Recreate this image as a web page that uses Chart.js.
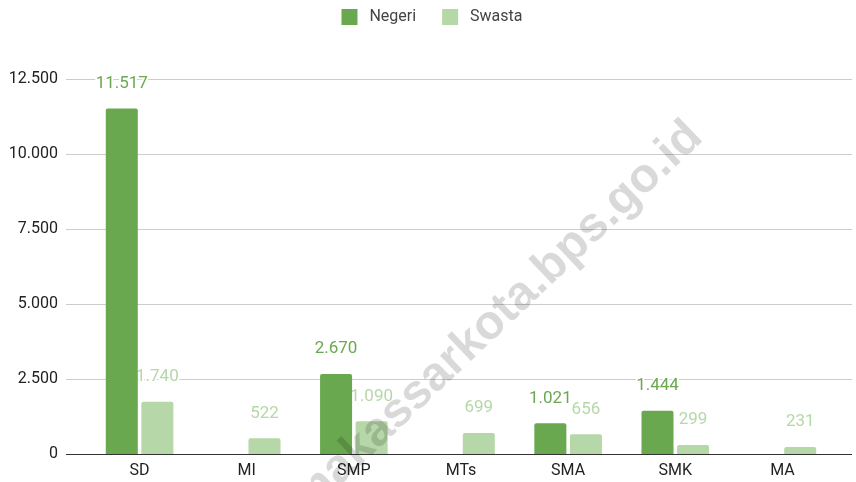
<!DOCTYPE html>
<html>
<head>
<meta charset="utf-8">
<script src="https://cdn.jsdelivr.net/npm/chart.js@4.4.1/dist/chart.umd.min.js"></script>
<style>
  html, body { margin: 0; padding: 0; background: #fff; }
  #wrap { width: 856px; height: 482px; }
</style>
</head>
<body>
<div id="wrap"><canvas id="chart"></canvas></div>
<script>
// data
const categories = ['SD', 'MI', 'SMP', 'MTs', 'SMA', 'SMK', 'MA'];
const negeri = [11517, 0, 2670, 0, 1021, 1444, 0];
const swasta = [1740, 522, 1090, 699, 656, 299, 231];
const yTicks = [0, 2500, 5000, 7500, 10000, 12500];
const watermark = 'makassarkota.bps.go.id';

const FONT = 'Roboto, Arial, sans-serif';
const negeriColor = '#6aa84f';
const swastaColor = '#b6d7a8';

// 11517 -> "11.517"
function fmt(v) {
    return String(v).replace(/\B(?=(\d{3})+(?!\d))/g, '.');
}

// grid lines reach a bit past the plot area, value labels sit behind the bars
const gridAndLabels = {
    id: 'gridAndLabels',
    afterLayout(chart) {
        // legend row sits a little right of centre in the original
        chart.legend.left += 14;
        chart.legend.right += 14;
    },
    beforeDatasetsDraw(chart) {
        const ctx = chart.ctx;
        const area = chart.chartArea;
        const y = chart.scales.y;
        ctx.save();
        y.ticks.forEach(t => {
            const py = Math.round(y.getPixelForValue(t.value)) + 0.5;
            ctx.strokeStyle = t.value === 0 ? '#333' : '#cccccc';
            ctx.lineWidth = 1;
            ctx.beginPath();
            ctx.moveTo(area.left - 20, py);
            ctx.lineTo(area.right + 16, py);
            ctx.stroke();
        });

        ctx.font = '17px ' + FONT;
        ctx.textAlign = 'center';
        ctx.textBaseline = 'middle';
        ctx.lineJoin = 'round';
        chart.data.datasets.forEach((ds, i) => {
            const meta = chart.getDatasetMeta(i);
            meta.data.forEach((bar, j) => {
                const v = ds.data[j];
                if (!v) return;
                const ly = bar.y - 25;
                ctx.strokeStyle = '#fff';
                ctx.lineWidth = 4;
                ctx.strokeText(fmt(v), bar.x, ly);
                ctx.fillStyle = ds.backgroundColor;
                ctx.fillText(fmt(v), bar.x, ly);
            });
        });
        ctx.restore();
    },
    afterDraw(chart) {
        // site watermark across the plot
        const ctx = chart.ctx;
        ctx.save();
        ctx.translate(497, 318);
        ctx.rotate(-43.5 * Math.PI / 180);
        ctx.font = 'bold 48px Arial, "Liberation Sans", sans-serif';
        ctx.fillStyle = 'rgba(0, 0, 0, 0.15)';
        ctx.textAlign = 'center';
        ctx.textBaseline = 'middle';
        ctx.fillText(watermark, 0, 0);
        ctx.restore();
    }
};

// legend takes the space down to the top grid line
const legendGap = {
    id: 'legendGap',
    beforeInit(chart) {
        const fit = chart.legend.fit;
        chart.legend.fit = function () {
            fit.bind(chart.legend)();
            this.height = 96;
        };
    }
};

const ctx = document.getElementById('chart').getContext('2d');
const chart = new Chart(ctx, {
    type: 'bar',
    data: {
        labels: categories,
        datasets: [{
            label: 'Negeri',
            data: negeri,
            backgroundColor: negeriColor,
            borderRadius: 2,
            borderSkipped: 'bottom'
        }, {
            label: 'Swasta',
            data: swasta,
            backgroundColor: swastaColor,
            borderRadius: 2,
            borderSkipped: 'bottom'
        }]
    },
    options: {
        responsive: true,
        maintainAspectRatio: false,
        animation: false,
        devicePixelRatio: 1,
        categoryPercentage: 0.664,
        barPercentage: 0.9,
        layout: { padding: { left: 0, right: 20, top: -17, bottom: 0 } },
        plugins: {
            legend: {
                position: 'top',
                labels: {
                    boxWidth: 16,
                    boxHeight: 16,
                    padding: 26,
                    color: '#444',
                    font: { size: 16, family: FONT },
                    generateLabels(chart) {
                        // a little more room between swatch and text
                        return Chart.defaults.plugins.legend.labels.generateLabels(chart)
                            .map(item => Object.assign(item, { text: ' ' + item.text }));
                    }
                }
            },
            tooltip: { enabled: false }
        },
        scales: {
            x: {
                grid: { display: false, drawTicks: false },
                border: { display: false },
                ticks: {
                    color: '#222',
                    padding: 7,
                    font: { size: 16, family: FONT }
                },
                afterFit(scale) { scale.height = 28; }
            },
            y: {
                min: 0,
                max: 12500,
                grid: { display: false, drawTicks: false },
                border: { display: false },
                afterBuildTicks(scale) {
                    scale.ticks = yTicks.map(v => ({ value: v }));
                },
                ticks: {
                    color: '#222',
                    padding: 28,
                    font: { size: 16, family: FONT },
                    callback: v => fmt(v)
                },
                afterFit(scale) {
                    scale.width = 86;
                    // the big tick padding should not push the plot up/down
                    scale.paddingTop = 10;
                    scale.paddingBottom = 10;
                }
            }
        }
    },
    plugins: [legendGap, gridAndLabels]
});
</script>
</body>
</html>
